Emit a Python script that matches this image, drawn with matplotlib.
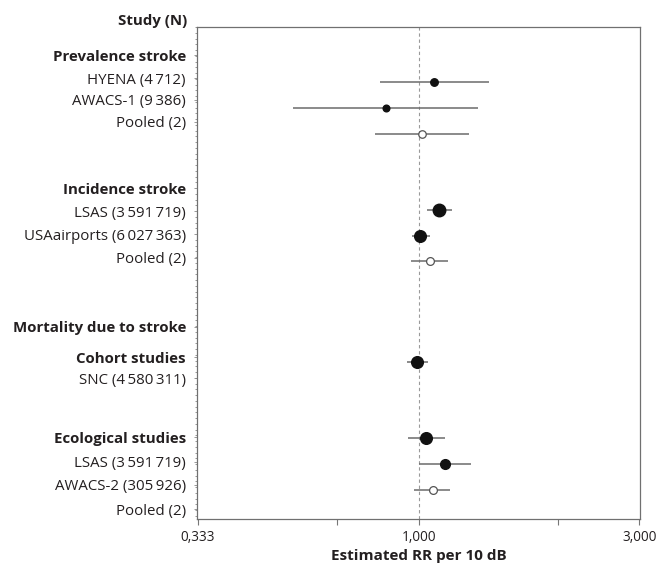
import matplotlib
matplotlib.use("Agg")
import matplotlib.pyplot as plt
import matplotlib.transforms as mtransforms
from matplotlib.ticker import FixedLocator, MultipleLocator, NullFormatter, FixedFormatter

plt.rcParams['font.family'] = ['Open Sans', 'DejaVu Sans']

TS = '\u2009'
# Row labels (text, position in row units from top, bold?)
label_texts = ["Prevalence stroke", f"HYENA (4{TS}712)", f"AWACS-1 (9{TS}386)", "Pooled (2)",
               "Incidence stroke", f"LSAS (3{TS}591{TS}719)", f"USAairports (6{TS}027{TS}363)", "Pooled (2)",
               "Mortality due to stroke", "Cohort studies", f"SNC (4{TS}580{TS}311)",
               "Ecological studies", f"LSAS (3{TS}591{TS}719)", f"AWACS-2 (305{TS}926)", "Pooled (2)"]
label_rows = [1.22, 2.22, 3.17, 4.13,
              7.0, 8.0, 9.0, 10.04,
              13.04, 14.35, 15.26,
              17.83, 18.91, 19.91, 20.96]
label_bold = [True, False, False, False,
              True, False, False, False,
              True, True, False,
              True, False, False, False]

# Estimates (RR per 10 dB) with 95% CI, as drawn
est_rows = [2.39, 3.52, 4.65, 7.96, 9.09, 10.17, 14.57, 17.87, 19.0, 20.13]
est_rr   = [1.078, 0.848, 1.015, 1.105, 1.005, 1.056, 0.990, 1.035, 1.139, 1.072]
ci_low   = [0.823, 0.536, 0.803, 1.041, 0.966, 0.961, 0.942, 0.947, 1.000, 0.975]
ci_high  = [1.418, 1.343, 1.284, 1.179, 1.056, 1.156, 1.046, 1.139, 1.297, 1.167]
pooled   = [False, False, True, False, False, True, False, False, False, True]
msize    = [5.4, 4.8, 5.4, 9.0, 8.4, 5.6, 8.4, 8.4, 7.0, 5.6]

xticks_major = [0.333, 1.0, 3.0]
xtick_labels = ["0,333", "1,000", "3,000"]
xticks_minor = [0.667, 2.0]

TXT = '#231f20'
GRAY = '#6b6b6b'

fig = plt.figure(figsize=(6.6, 5.69), dpi=100)
ax = fig.add_axes([197/660, 1-519/569, 443/660, 492/569])
ax.set_xscale('log')
ax.set_xlim(0.3315, 3.01)
ax.set_ylim(21.39, 0)

ax.axvline(1.0, color='#9a9a9a', lw=0.8, ls=(0, (3, 2.5)), zorder=1)

for y, e, lo, hi, p, s in zip(est_rows, est_rr, ci_low, ci_high, pooled, msize):
    ax.plot([lo, hi], [y, y], color=GRAY, lw=1.1, zorder=2, solid_capstyle='butt')
    if p:
        ax.plot(e, y, 'o', ms=s, mfc='white', mec='#555555', mew=0.9, zorder=3)
    else:
        ax.plot(e, y, 'o', ms=s, mfc='#111111', mec='#111111', zorder=3)

ax.set_yticks(label_rows)
ax.set_yticklabels(label_texts)
for t, b in zip(ax.get_yticklabels(), label_bold):
    t.set_fontweight('bold' if b else 'normal')
    t.set_color(TXT)
    t.set_fontsize(10.8)
ax.yaxis.set_minor_locator(MultipleLocator(0.25))
ax.tick_params(axis='y', which='major', length=2, width=0.6, color='#888888', pad=6)
ax.tick_params(axis='y', which='minor', length=1.5, width=0.6, color='#888888')

ax.xaxis.set_major_locator(FixedLocator(xticks_major))
ax.xaxis.set_major_formatter(FixedFormatter(xtick_labels))
ax.xaxis.set_minor_locator(FixedLocator(xticks_minor))
ax.xaxis.set_minor_formatter(NullFormatter())
ax.tick_params(axis='x', which='both', length=4, width=0.8, color='#777777', labelsize=9.8, labelcolor=TXT, pad=4)

ax.set_xlabel("Estimated RR per 10 dB", fontsize=11, fontweight='bold', color=TXT, labelpad=3)

for sp in ax.spines.values():
    sp.set_color('#707070')
    sp.set_linewidth(0.9)

trans = mtransforms.blended_transform_factory(ax.transAxes, ax.transData)
ax.text(-10/443, -0.26, "Study (N)", transform=trans,
        ha='right', va='center', fontsize=10.8, fontweight='bold', color=TXT, clip_on=False)

fig.savefig("out.png", dpi=100, facecolor='white')
